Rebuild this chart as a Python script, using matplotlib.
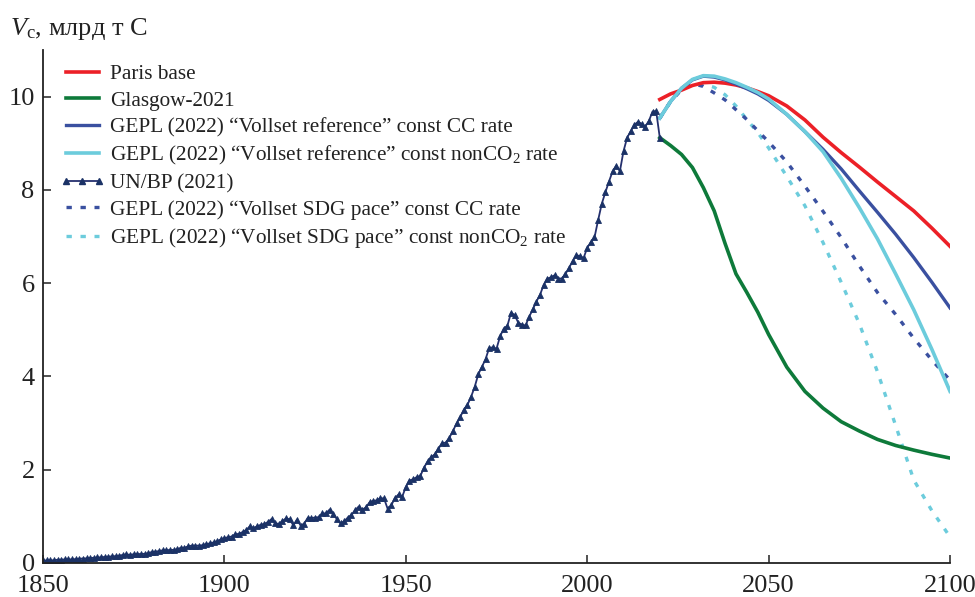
import matplotlib
matplotlib.use("Agg")
import matplotlib.pyplot as plt
from matplotlib.lines import Line2D

plt.rcParams['font.family'] = ['Liberation Serif', 'DejaVu Serif']
plt.rcParams['mathtext.fontset'] = 'custom'
plt.rcParams['mathtext.rm'] = 'Liberation Serif'
plt.rcParams['mathtext.it'] = 'Liberation Serif:italic'

# ---- data ----
hist_start = 1850
hist_values = [
    0.054, 0.054, 0.057, 0.059, 0.069, 0.071, 0.076, 0.077, 0.078, 0.083,
    0.091, 0.095, 0.097, 0.104, 0.112, 0.119, 0.122, 0.130, 0.135, 0.142,
    0.147, 0.156, 0.173, 0.184, 0.174, 0.188, 0.191, 0.194, 0.196, 0.210,
    0.236, 0.243, 0.256, 0.272, 0.275, 0.277, 0.281, 0.295, 0.327, 0.327,
    0.356, 0.372, 0.374, 0.370, 0.383, 0.406, 0.419, 0.440, 0.465, 0.507,
    0.534, 0.552, 0.566, 0.617, 0.624, 0.663, 0.707, 0.784, 0.750, 0.785,
    0.819, 0.836, 0.879, 0.943, 0.850, 0.838, 0.901, 0.955, 0.936, 0.806,
    0.932, 0.803, 0.845, 0.970, 0.963, 0.975, 0.983, 1.062, 1.065, 1.145,
    1.053, 0.940, 0.847, 0.893, 0.973, 1.027, 1.130, 1.209, 1.142, 1.192,
    1.299, 1.334, 1.342, 1.391, 1.383, 1.160, 1.238, 1.392, 1.469, 1.419,
    1.630, 1.768, 1.796, 1.841, 1.865, 2.043, 2.177, 2.270, 2.330, 2.454,
    2.569, 2.580, 2.686, 2.833, 2.995, 3.130, 3.288, 3.393, 3.566, 3.780,
    4.053, 4.208, 4.376, 4.614, 4.623, 4.596, 4.864, 5.026, 5.087, 5.369,
    5.315, 5.152, 5.113, 5.094, 5.280, 5.439, 5.607, 5.752, 5.965, 6.097,
    6.127, 6.170, 6.100, 6.100, 6.200, 6.330, 6.480, 6.600, 6.580, 6.540,
    6.760, 6.880, 6.980, 7.350, 7.700, 7.950, 8.180, 8.400, 8.520, 8.400,
    8.830, 9.120, 9.260, 9.400, 9.460, 9.420, 9.360, 9.480, 9.680, 9.690,
    9.120,
]
hist_years = list(range(hist_start, hist_start + len(hist_values)))

scen_years = [2020, 2023, 2026, 2029, 2032, 2035, 2038, 2041, 2044, 2047,
              2050, 2055, 2060, 2065, 2070, 2075, 2080, 2085, 2090, 2095, 2100]
paris = [9.94, 10.06, 10.14, 10.24, 10.30, 10.31, 10.29, 10.25, 10.19, 10.11,
         10.02, 9.80, 9.50, 9.13, 8.80, 8.49, 8.17, 7.86, 7.55, 7.18, 6.79]
glasgow = [9.12, 8.95, 8.76, 8.48, 8.05, 7.55, 6.85, 6.20, 5.80, 5.38,
           4.90, 4.20, 3.68, 3.32, 3.03, 2.83, 2.65, 2.52, 2.42, 2.33, 2.25]
ref_cc = [9.54, 9.90, 10.18, 10.36, 10.44, 10.42, 10.36, 10.27, 10.17, 10.06,
          9.92, 9.62, 9.25, 8.87, 8.45, 7.98, 7.52, 7.05, 6.55, 6.02, 5.47]
ref_nonco2 = [9.54, 9.90, 10.18, 10.37, 10.45, 10.44, 10.38, 10.30, 10.20, 10.09,
              9.95, 9.62, 9.25, 8.82, 8.25, 7.62, 6.95, 6.20, 5.43, 4.58, 3.68]
sdg_cc = [9.54, 9.90, 10.15, 10.28, 10.22, 10.08, 9.93, 9.72, 9.51, 9.27,
          9.03, 8.60, 8.08, 7.54, 6.98, 6.37, 5.80, 5.33, 4.82, 4.35, 3.92]
sdg_nonco2 = [9.54, 9.90, 10.15, 10.28, 10.27, 10.20, 10.04, 9.80, 9.51, 9.23,
              8.90, 8.29, 7.66, 6.87, 6.02, 5.13, 4.10, 2.95, 1.78, 1.12, 0.56]

labels = [
    "Paris base",
    "Glasgow-2021",
    "GEPL (2022) \u201cVollset reference\u201d const CC rate",
    "GEPL (2022) \u201cVollset reference\u201d const nonCO$_2$ rate",
    "UN/BP (2021)",
    "GEPL (2022) \u201cVollset SDG pace\u201d const CC rate",
    "GEPL (2022) \u201cVollset SDG pace\u201d const nonCO$_2$ rate",
]
xticks = [1850, 1900, 1950, 2000, 2050, 2100]
yticks = [0, 2, 4, 6, 8, 10]

# ---- styles ----
c_red = "#ec2027"
c_green = "#0e7a3a"
c_dblue = "#3a50a0"
c_lblue = "#6cccdc"
c_navy = "#1b3266"
lw = 2.4
dash = (0, (1.5, 2.6))

fig = plt.figure(figsize=(9.75, 5.97), dpi=100)
ax = fig.add_axes([0.0441, 0.0570, 0.9303, 0.8592])

l_sdg_n, = ax.plot(scen_years, sdg_nonco2, color=c_lblue, lw=lw, ls=dash)
l_sdg_c, = ax.plot(scen_years, sdg_cc, color=c_dblue, lw=lw, ls=dash)
l_green, = ax.plot(scen_years, glasgow, color=c_green, lw=lw + 0.2)
l_red, = ax.plot(scen_years, paris, color=c_red, lw=lw + 0.2)
l_dblue, = ax.plot(scen_years, ref_cc, color=c_dblue, lw=lw)
l_lblue, = ax.plot(scen_years, ref_nonco2, color=c_lblue, lw=lw + 0.2)
l_hist, = ax.plot(hist_years, hist_values, color="#25306e", lw=1.3,
                  marker="^", ms=4.5, mfc=c_navy, mec=c_navy, mew=0.6)

h_hist = Line2D([0, 1, 2], [0, 0, 0], color="#25306e", lw=1.3, marker="^",
                ms=4.5, mfc=c_navy, mec=c_navy, markevery=[1])
handles = [l_red, l_green, l_dblue, l_lblue, h_hist,
           Line2D([], [], color=c_dblue, lw=lw, ls=(0, (1.6, 2.6))),
           Line2D([], [], color=c_lblue, lw=lw, ls=(0, (1.6, 2.6)))]

leg = ax.legend(handles, labels, loc="upper left",
                bbox_to_anchor=(0.018, 0.972), frameon=False,
                fontsize=15.3, handlelength=2.15, handletextpad=0.25,
                labelspacing=0.31, borderpad=0, borderaxespad=0,
                numpoints=3)
for t in leg.get_texts():
    t.set_color("#222222")

ax.set_xlim(1850, 2100)
ax.set_ylim(0, 11.0)
ax.set_xticks(xticks)
ax.set_yticks(yticks)
ax.tick_params(axis="both", direction="in", length=6, width=1.1,
               labelsize=19, colors="#222222")
ax.tick_params(axis="x", pad=9)
ax.tick_params(axis="y", pad=6)
for s in ["top", "right"]:
    ax.spines[s].set_visible(False)
for s in ["left", "bottom"]:
    ax.spines[s].set_linewidth(1.3)
    ax.spines[s].set_color("#222222")

fig.text(0.010, 1 - 35 / 597, "$V_\\mathrm{c}$, \u043c\u043b\u0440\u0434 \u0442 \u0421",
         fontsize=19, va="baseline", ha="left", color="#222222")

fig.savefig("out.png", dpi=100)
